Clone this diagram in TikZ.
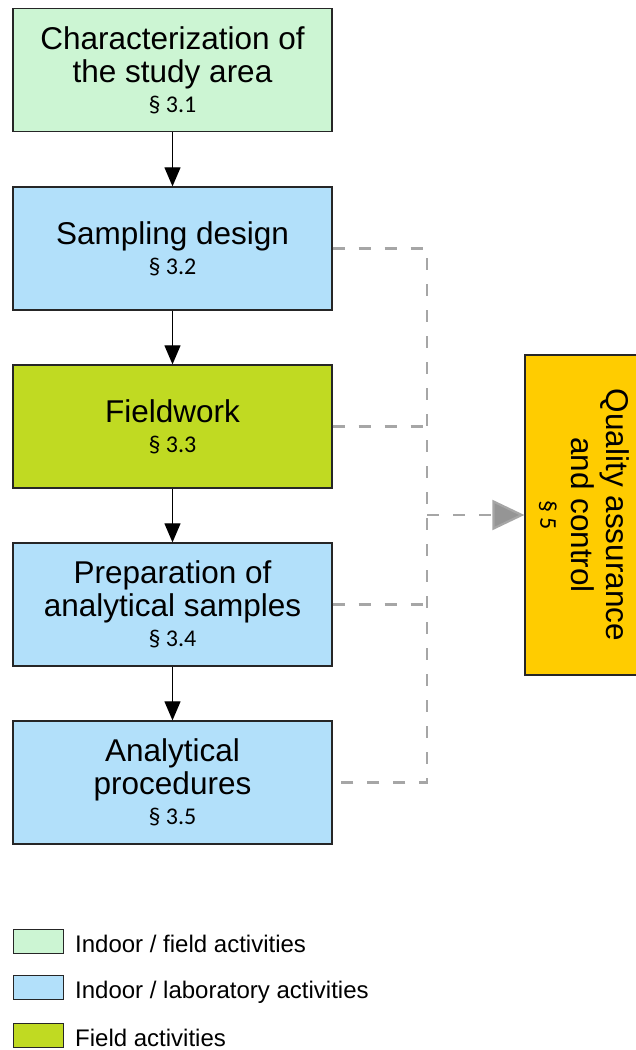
\documentclass[tikz,border=0pt]{standalone}
\usepackage{fontspec}
\setmainfont{Liberation Sans}
\newfontfamily\secfont{Carlito}
\usetikzlibrary{arrows.meta}
\definecolor{cIndoorField}{RGB}{204,245,211}
\definecolor{cLab}{RGB}{178,224,250}
\definecolor{cField}{RGB}{192,218,34}
\definecolor{cQA}{RGB}{255,204,0}
\definecolor{cDash}{RGB}{166,166,166}
\newcommand{\mysec}[1]{{\secfont\fontsize{24}{24}\selectfont #1}}
\begin{document}
\begin{tikzpicture}[x=1pt,y=1pt,
  stepbox/.style={draw=black!85,line width=1.3pt,minimum width=319pt,minimum height=123pt,
    align=center,inner sep=0pt,font=\fontsize{31.5}{33}\selectfont},
  flow/.style={draw=black,line width=1.2pt,-{Triangle[length=19pt,width=16pt]}},
  qaline/.style={draw=cDash,line width=2.2pt,dash pattern=on 12pt off 14pt},
  qabox/.style={draw=black!85,line width=1.3pt,fill=cQA,minimum width=118pt,minimum height=320pt,inner sep=0pt},
  qatext/.style={rotate=-90,align=center,inner sep=0pt,font=\fontsize{31.5}{35}\selectfont},
  legbox/.style={draw=black!85,line width=1pt,minimum width=50pt,minimum height=24pt,inner sep=0pt},
  legtxt/.style={anchor=base west,font=\fontsize{24}{24}\selectfont,inner sep=0pt}]
\clip (0,0) rectangle (636,-1050);
\fill[white] (0,0) rectangle (636,-1050);

% process boxes
\node[stepbox,fill=cIndoorField] (b1) at (172.5,-70) {Characterization of\\the study area\\[-3pt]\mysec{§ 3.1}};
\node[stepbox,fill=cLab] (b2) at (172.5,-248.5) {Sampling design\\[-3pt]\mysec{§ 3.2}};
\node[stepbox,fill=cField] (b3) at (172.5,-426.5) {Fieldwork\\[-3pt]\mysec{§ 3.3}};
\node[stepbox,fill=cLab] (b4) at (172.5,-604.5) {Preparation of\\analytical samples\\[-3pt]\mysec{§ 3.4}};
\node[stepbox,fill=cLab] (b5) at (172.5,-782.5) {Analytical\\procedures\\[-3pt]\mysec{§ 3.5}};

% quality box
\node[qabox] (qa) at (584,-515) {};
\node[qatext] (qat) at (584,-515) {Quality assurance\\and control\\[-4pt]\mysec{§ 5}};

% flow arrows
\draw[flow] (b1) -- (b2);
\draw[flow] (b2) -- (b3);
\draw[flow] (b3) -- (b4);
\draw[flow] (b4) -- (b5);

% dashed connections
\coordinate (j) at (427,-515);
\draw[qaline] (b2.east) -- (b2.east -| j) -- (b5.east -| j) -- (b5.east);
\draw[qaline] (b3.east) -- (b3.east -| j);
\draw[qaline] (b4.east) -- (b4.east -| j);
\draw[qaline,-{Triangle[length=32pt,width=30pt,fill=cDash!90!black]}] (j) -- (qa.west);

% legend
\node[legbox,fill=cIndoorField] (l1) at (38,-941) {};
\node[legbox,fill=cLab] (l2) at (38,-987.5) {};
\node[legbox,fill=cField] (l3) at (38,-1035) {};
\node[legtxt] (t1) at (75,-952) {Indoor / field activities};
\node[legtxt] (t2) at (75,-998.5) {Indoor / laboratory activities};
\node[legtxt] (t3) at (75,-1046) {Field activities};
\end{tikzpicture}
\end{document}
